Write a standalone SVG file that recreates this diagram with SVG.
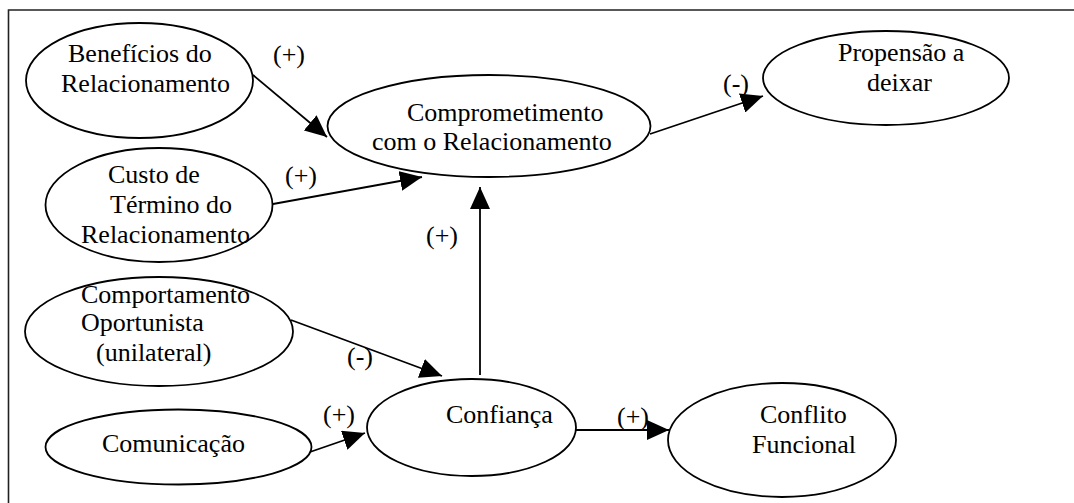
<svg xmlns="http://www.w3.org/2000/svg" width="1074" height="503" viewBox="0 0 1074 503">
<style>
.n{fill:#fff;stroke:#000;stroke-width:1.8}
.t{font-family:'Liberation Serif','Times New Roman',Times,serif;font-size:26px;fill:#000}
.c{stroke:#000;stroke-width:1.8;fill:none}
</style>
<defs>
<marker id="ah" viewBox="0 0 22 20" refX="22" refY="10" markerWidth="22" markerHeight="20" markerUnits="userSpaceOnUse" orient="auto">
<path d="M0,0 L22,10 L0,20 z" fill="#000"/>
</marker>
</defs>
<rect width="1074" height="503" fill="#fff"/>
<path d="M1074,10 L8.5,10 L8.5,503" fill="none" stroke="#222" stroke-width="1.6"/>
<g id="connectors" font-family="Liberation Serif, serif">
<line class="c" x1="253" y1="75" x2="327" y2="137" marker-end="url(#ah)"/>
<line class="c" x1="273" y1="204" x2="422" y2="177" marker-end="url(#ah)"/>
<line class="c" x1="650" y1="134" x2="763" y2="96" marker-end="url(#ah)"/>
<line class="c" x1="480" y1="375" x2="480" y2="187" marker-end="url(#ah)"/>
<line class="c" x1="291" y1="320" x2="442" y2="376" marker-end="url(#ah)"/>
<line class="c" x1="310" y1="452" x2="365" y2="433" marker-end="url(#ah)"/>
<line class="c" x1="576" y1="430" x2="669" y2="430" marker-end="url(#ah)"/>
<text class="t" x="273" y="63">(+)</text>
<text class="t" x="285" y="184">(+)</text>
<text class="t" x="723" y="92">(-)</text>
<text class="t" x="426" y="244">(+)</text>
<text class="t" x="347" y="365">(-)</text>
<text class="t" x="323" y="423">(+)</text>
<text class="t" x="617" y="425">(+)</text>
</g>
<g id="beneficios" font-family="Liberation Serif, serif">
<ellipse class="n" cx="139.5" cy="80.5" rx="113.5" ry="57.5"/>
<text class="t" x="68" y="62">Benefícios do</text>
<text class="t" x="61" y="92">Relacionamento</text>
</g>
<g id="custo" font-family="Liberation Serif, serif">
<ellipse class="n" cx="159" cy="205" rx="113.5" ry="57"/>
<text class="t" x="108" y="183">Custo de</text>
<text class="t" x="110" y="213">Término do</text>
<text class="t" x="81" y="243">Relacionamento</text>
</g>
<g id="comprometimento" font-family="Liberation Serif, serif">
<ellipse class="n" cx="489" cy="126" rx="161.5" ry="51"/>
<text class="t" x="407" y="121">Comprometimento</text>
<text class="t" x="372" y="150">com o Relacionamento</text>
</g>
<g id="propensao" font-family="Liberation Serif, serif">
<ellipse class="n" cx="886" cy="78" rx="123" ry="47"/>
<text class="t" x="838" y="61">Propensão a</text>
<text class="t" x="867" y="91">deixar</text>
</g>
<g id="comportamento" font-family="Liberation Serif, serif">
<ellipse class="n" cx="159" cy="331.5" rx="134" ry="54.5"/>
<text class="t" x="81" y="303">Comportamento</text>
<text class="t" x="81" y="331">Oportunista</text>
<text class="t" x="96" y="361">(unilateral)</text>
</g>
<g id="comunicacao" font-family="Liberation Serif, serif">
<ellipse class="n" cx="178.5" cy="447" rx="133" ry="37.5"/>
<text class="t" x="102" y="452">Comunicação</text>
</g>
<g id="confianca" font-family="Liberation Serif, serif">
<ellipse class="n" cx="471.5" cy="427.5" rx="104.5" ry="48.5"/>
<text class="t" x="446" y="423">Confiança</text>
</g>
<g id="conflito" font-family="Liberation Serif, serif">
<ellipse class="n" cx="782" cy="440" rx="114" ry="57"/>
<text class="t" x="760" y="423">Conflito</text>
<text class="t" x="752" y="453">Funcional</text>
</g>
</svg>
